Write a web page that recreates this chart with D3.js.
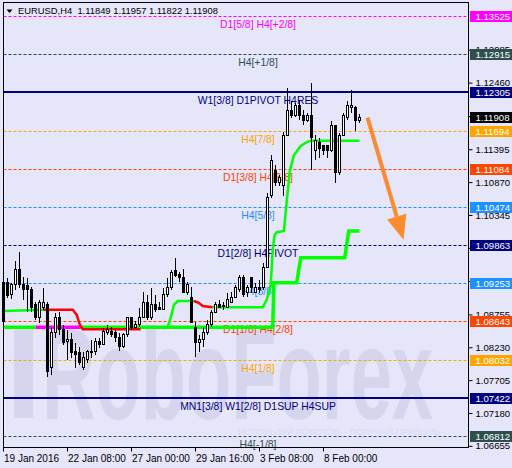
<!DOCTYPE html>
<html>
<head>
<meta charset="utf-8">
<script src="https://cdn.jsdelivr.net/npm/d3@7"></script>
<style>
  body { margin: 0; background: #e6e6fa; }
  svg { display: block; font-family: "Liberation Sans", Arial, sans-serif; }
</style>
</head>
<body>
<svg id="grafico"></svg>
<script>
// ---- dados ----
const titulo = 'EURUSD,H4';
const ohlcAtual = [1.11849, 1.11957, 1.11822, 1.11908];

const aberturas = [
  1.0865, 1.0926, 1.0907, 1.0924, 1.0948, 1.0923, 1.0921, 1.0915, 1.0891, 1.0870,
  1.0887, 1.0891, 1.0790, 1.0846, 1.0871, 1.0851, 1.0832, 1.0835, 1.0816, 1.0814,
  1.0790, 1.0804, 1.0816, 1.0816, 1.0833, 1.0828, 1.0847, 1.0849, 1.0846, 1.0838,
  1.0824, 1.0843, 1.0870, 1.0854, 1.0859, 1.0870, 1.0895, 1.0870, 1.0892, 1.0887,
  1.0884, 1.0907, 1.0918, 1.0945, 1.0940, 1.0935, 1.0911, 1.0903, 1.0855, 1.0830,
  1.0835, 1.0846, 1.0859, 1.0879, 1.0891, 1.0889, 1.0887, 1.0895, 1.0903, 1.0915,
  1.0935, 1.0910, 1.0934, 1.0911, 1.0918, 1.0918, 1.0951, 1.1065, 1.1106, 1.1086,
  1.1082, 1.1162, 1.1202, 1.1194, 1.1209, 1.1194, 1.1186, 1.1194, 1.1138, 1.1151,
  1.1145, 1.1145, 1.1138, 1.1177, 1.1102, 1.1162, 1.1190, 1.1206, 1.1206, 1.11849
];
const maximas = [
  1.0934, 1.0934, 1.0926, 1.0961, 1.0975, 1.0935, 1.0934, 1.0919, 1.0895, 1.0899,
  1.0918, 1.0895, 1.0854, 1.0878, 1.0879, 1.0859, 1.0851, 1.0846, 1.0830, 1.0824,
  1.0816, 1.0819, 1.0835, 1.0838, 1.0838, 1.0854, 1.0859, 1.0855, 1.0851, 1.0846,
  1.0846, 1.0871, 1.0871, 1.0865, 1.0886, 1.0911, 1.0907, 1.0918, 1.0907, 1.0895,
  1.0918, 1.0934, 1.0947, 1.0966, 1.0943, 1.0948, 1.0928, 1.0919, 1.0863, 1.0843,
  1.0855, 1.0867, 1.0883, 1.0895, 1.0899, 1.0895, 1.0910, 1.0911, 1.0923, 1.0939,
  1.0939, 1.0923, 1.0935, 1.0926, 1.0931, 1.0958, 1.1070, 1.1130, 1.1114, 1.1098,
  1.1167, 1.1237, 1.1217, 1.1214, 1.1217, 1.1202, 1.1198, 1.1245, 1.1162, 1.1158,
  1.1146, 1.1145, 1.1185, 1.1178, 1.1166, 1.1198, 1.1217, 1.1234, 1.1209, 1.11957
];
const minimas = [
  1.0860, 1.0902, 1.0900, 1.0915, 1.0918, 1.0899, 1.0879, 1.0879, 1.0867, 1.0862,
  1.0883, 1.0776, 1.0779, 1.0838, 1.0843, 1.0827, 1.0803, 1.0806, 1.0790, 1.0795,
  1.0787, 1.0798, 1.0806, 1.0811, 1.0822, 1.0827, 1.0843, 1.0840, 1.0832, 1.0817,
  1.0822, 1.0840, 1.0851, 1.0852, 1.0855, 1.0870, 1.0867, 1.0867, 1.0879, 1.0883,
  1.0883, 1.0903, 1.0915, 1.0935, 1.0928, 1.0910, 1.0907, 1.0862, 1.0808, 1.0816,
  1.0824, 1.0843, 1.0855, 1.0878, 1.0886, 1.0883, 1.0886, 1.0894, 1.0902, 1.0911,
  1.0903, 1.0903, 1.0910, 1.0910, 1.0910, 1.0915, 1.0950, 1.1062, 1.1081, 1.1081,
  1.1065, 1.1161, 1.1190, 1.1191, 1.1186, 1.1178, 1.1183, 1.1106, 1.1122, 1.1126,
  1.1130, 1.1126, 1.1135, 1.1086, 1.1098, 1.1161, 1.1186, 1.1198, 1.1169, 1.11822
];
const fechamentos = [
  1.0926, 1.0905, 1.0923, 1.0948, 1.0924, 1.0915, 1.0915, 1.0886, 1.0870, 1.0895,
  1.0895, 1.0784, 1.0846, 1.0871, 1.0851, 1.0830, 1.0835, 1.0814, 1.0811, 1.0798,
  1.0806, 1.0816, 1.0817, 1.0832, 1.0828, 1.0849, 1.0851, 1.0844, 1.0838, 1.0824,
  1.0843, 1.0870, 1.0854, 1.0860, 1.0871, 1.0895, 1.0870, 1.0892, 1.0884, 1.0884,
  1.0908, 1.0919, 1.0943, 1.0937, 1.0934, 1.0911, 1.0924, 1.0863, 1.0830, 1.0835,
  1.0846, 1.0859, 1.0879, 1.0891, 1.0887, 1.0890, 1.0899, 1.0903, 1.0918, 1.0935,
  1.0907, 1.0918, 1.0919, 1.0918, 1.0915, 1.0951, 1.1063, 1.1122, 1.1087, 1.1094,
  1.1162, 1.1202, 1.1194, 1.1209, 1.1193, 1.1186, 1.1194, 1.1158, 1.1154, 1.1141,
  1.1138, 1.1138, 1.1178, 1.1102, 1.1162, 1.1193, 1.1209, 1.1209, 1.1185, 1.11908
];

const rotulosX = ['19 Jan 2016', '22 Jan 08:00', '27 Jan 00:00', '29 Jan 16:00', '3 Feb 08:00', '8 Feb 00:00'];
const barrasRotulosX = [0, 16, 32, 48, 64, 80];

const ticksPreco = [1.12985, 1.12460, 1.11925, 1.11395, 1.10870, 1.10345, 1.09820,
                    1.09290, 1.08755, 1.08230, 1.07705, 1.07180, 1.06655];

// níveis de Murrey: preço, texto, tipo
const niveisPreco = [1.13525, 1.12915, 1.12305, 1.11694, 1.11084, 1.10474, 1.09863,
                     1.09253, 1.08643, 1.08032, 1.07422, 1.06812];
const niveisTexto = ['D1[5/8] H4[+2/8]', 'H4[+1/8]', 'W1[3/8] D1PIVOT H4RES', 'H4[7/8]',
                     'D1[3/8] H4[6/8]', 'H4[5/8]', 'D1[2/8] H4PIVOT', 'H4[3/8]',
                     'D1[1/8] H4[2/8]', 'H4[1/8]', 'MN1[3/8] W1[2/8] D1SUP H4SUP', 'H4[-1/8]'];
const niveisTipo = ['mag', 'cinza', 'azulForte', 'laranja', 'vermelho', 'azul', 'azulTrac',
                    'azul', 'vermelho', 'laranja', 'azulForte', 'cinza'];

// linhas do indicador: [barra, preço]
const linhaFina = [
  { cor: 'verde', pontos: [[0, 1.0881], [10, 1.0883]] },
  { cor: 'verm', pontos: [[10, 1.0883], [17.3, 1.0883], [18.3, 1.0875], [19.1, 1.0859], [19.8, 1.0852], [34.3, 1.0852]] },
  { cor: 'verde', pontos: [[34.3, 1.0855], [41, 1.0855], [41.8, 1.0870], [42.6, 1.0891], [43.6, 1.0897], [47.6, 1.0897]] },
  { cor: 'verm', pontos: [[47.6, 1.0897], [48.8, 1.0894], [49.8, 1.0889], [52.3, 1.0887]] },
  { cor: 'verde', pontos: [[52.3, 1.0887], [64.8, 1.0887], [65.8, 1.0899], [66.8, 1.0923], [67.3, 1.0979],
      [67.8, 1.1003], [68.3, 1.1007], [70.1, 1.1009], [70.6, 1.1043], [71.6, 1.1106], [72.6, 1.1130],
      [74.3, 1.1145], [75.8, 1.1151], [76.8, 1.1153], [89, 1.1153]] }
];
const linhaGrossa = [
  { cor: 'verde', pontos: [[0, 1.0855], [8, 1.0855]] },
  { cor: 'mag', pontos: [[8, 1.0855], [19.3, 1.0855]] },
  { cor: 'verde', pontos: [[19.3, 1.0855], [67.3, 1.0855], [67.6, 1.0926], [73.3, 1.0926], [74.3, 1.0966],
      [85.3, 1.0966], [86.3, 1.1009], [89, 1.1009]] }
];

const seta = [[91, 1.1190], [100, 1.0995]];

// ---- estilos ----
const estilos = {
  mag: { cor: '#ff00ff', traco: '3,2', largura: 1 },
  cinza: { cor: '#2f4f4f', traco: '3,2', largura: 1 },
  azulForte: { cor: '#000080', traco: null, largura: 2 },
  azulTrac: { cor: '#000080', traco: '3,2', largura: 1 },
  laranja: { cor: '#ffa500', traco: '3,2', largura: 1 },
  vermelho: { cor: '#ff4500', traco: '3,2', largura: 1 },
  azul: { cor: '#1e90ff', traco: '3,2', largura: 1 }
};
const coresIndicador = { verde: '#00ff00', verm: '#ff0000', mag: '#ff00ff' };

const largura = 512, altura = 468;
const area = { esquerda: 3.5, direita: 468.5, superior: 2.5, inferior: 447.5 };

const svg = d3.select('#grafico').attr('width', largura).attr('height', altura);

svg.append('rect').attr('width', largura).attr('height', altura).attr('fill', '#e6e6fa');

const fnX = d3.scaleLinear().domain([0, 89]).range([3.5, 359.5]);
const fnY = d3.scaleLinear().domain([1.06812, 1.13525]).range([436, 16]);

// marca d'água
const marca = svg.append('g').attr('fill', '#d5d5ee');
marca.append('rect').attr('x', 14).attr('y', 328).attr('width', 19).attr('height', 90);
marca.append('text')
  .attr('transform', 'translate(42,419) scale(0.57,1)')
  .style('font-size', '130px')
  .style('font-weight', 'bold')
  .text('RoboForex');
svg.append('text')
  .attr('x', 238).attr('y', 435)
  .attr('fill', '#dadaf2')
  .style('font-size', '9px')
  .text('ИСПОЛЬЗУЙ РОБОТОВ – ПОЛУЧАЙ ПРИБЫЛЬ');

// níveis
const niveis = niveisPreco.map((p, i) => ({ preco: p, texto: niveisTexto[i], est: estilos[niveisTipo[i]] }));

svg.append('g').selectAll('line').data(niveis).enter().append('line')
  .attr('x1', area.esquerda).attr('x2', area.direita)
  .attr('y1', d => Math.round(fnY(d.preco)) + (d.est.largura === 2 ? 0 : 0.5))
  .attr('y2', d => Math.round(fnY(d.preco)) + (d.est.largura === 2 ? 0 : 0.5))
  .attr('stroke', d => d.est.cor)
  .attr('stroke-width', d => d.est.largura)
  .attr('stroke-dasharray', d => d.est.traco);

svg.append('g').selectAll('text').data(niveis).enter().append('text')
  .attr('x', 258)
  .attr('y', d => Math.round(fnY(d.preco)) + 12)
  .attr('text-anchor', 'middle')
  .attr('fill', d => d.est.cor)
  .style('font-size', '10.4px')
  .text(d => d.texto);

// indicador
const linha = d3.line().x(d => fnX(d[0])).y(d => fnY(d[1]));
svg.append('g').selectAll('path').data(linhaGrossa).enter().append('path')
  .attr('d', d => linha(d.pontos))
  .attr('fill', 'none')
  .attr('stroke', d => coresIndicador[d.cor])
  .attr('stroke-width', 3.5);
svg.append('g').selectAll('path').data(linhaFina).enter().append('path')
  .attr('d', d => linha(d.pontos))
  .attr('fill', 'none')
  .attr('stroke', d => coresIndicador[d.cor])
  .attr('stroke-width', 2.5);

// velas
const velas = aberturas.map((o, i) => ({
  i: i, o: o, h: maximas[i], l: minimas[i], c: fechamentos[i]
}));

const gVelas = svg.append('g').attr('shape-rendering', 'crispEdges');
gVelas.selectAll('.pavio').data(velas).enter().append('line')
  .attr('class', 'pavio')
  .attr('x1', d => fnX(d.i)).attr('x2', d => fnX(d.i))
  .attr('y1', d => fnY(d.h)).attr('y2', d => fnY(d.l))
  .attr('stroke', '#000');
gVelas.selectAll('.corpo').data(velas).enter().append('rect')
  .attr('class', 'corpo')
  .attr('x', d => fnX(d.i) - 1)
  .attr('width', 2)
  .attr('y', d => fnY(Math.max(d.o, d.c)))
  .attr('height', d => Math.max(1, Math.abs(fnY(d.o) - fnY(d.c))))
  .attr('fill', d => d.c >= d.o ? '#fff' : '#000')
  .attr('stroke', '#000');

// seta laranja
const corSeta = '#fb8b2e';
const [s0, s1] = seta.map(d => [fnX(d[0]), fnY(d[1])]);
const ang = Math.atan2(s1[1] - s0[1], s1[0] - s0[0]);
const comp = 24, meia = 10;
const base = [s1[0] - comp * Math.cos(ang), s1[1] - comp * Math.sin(ang)];
svg.append('line')
  .attr('x1', s0[0]).attr('y1', s0[1]).attr('x2', base[0]).attr('y2', base[1])
  .attr('stroke', corSeta).attr('stroke-width', 4);
svg.append('path')
  .attr('d', 'M' + s1 + 'L' + [base[0] + meia * Math.sin(ang), base[1] - meia * Math.cos(ang)] +
    'L' + [base[0] - meia * Math.sin(ang), base[1] + meia * Math.cos(ang)] + 'Z')
  .attr('fill', corSeta);

// moldura
svg.append('rect')
  .attr('x', area.esquerda).attr('y', area.superior)
  .attr('width', area.direita - area.esquerda).attr('height', area.inferior - area.superior)
  .attr('fill', 'none').attr('stroke', '#000');

// eixo X
const eixoX = d3.axisBottom(fnX)
  .tickValues(barrasRotulosX)
  .tickFormat((d, i) => rotulosX[i])
  .tickSize(4);
const gX = svg.append('g')
  .attr('transform', 'translate(-0.5,' + area.inferior + ')')
  .call(eixoX);
gX.select('.domain').remove();
gX.selectAll('text').attr('text-anchor', 'start').attr('x', 0.5)
  .style('font-size', '10px').style('font-family', '"Liberation Sans", Arial, sans-serif').attr('fill', '#000');

// eixo Y
const eixoY = d3.axisRight(fnY)
  .tickValues(ticksPreco)
  .tickFormat(d3.format('.5f'))
  .tickSize(4);
const gY = svg.append('g')
  .attr('transform', 'translate(' + area.direita + ',0)')
  .call(eixoY);
gY.select('.domain').remove();
gY.selectAll('text')
  .style('font-size', '9.6px').style('font-family', '"Liberation Sans", Arial, sans-serif').attr('fill', '#000');

// caixas de preço
const caixas = niveis.map(d => ({ preco: d.preco, cor: d.est.cor }));
caixas.push({ preco: ohlcAtual[3], cor: '#000' });
const gC = svg.append('g');
gC.selectAll('rect').data(caixas).enter().append('rect')
  .attr('x', 470).attr('width', 42)
  .attr('y', d => Math.round(fnY(d.preco)) - 5)
  .attr('height', 11)
  .attr('fill', d => d.cor);
gC.selectAll('text').data(caixas).enter().append('text')
  .attr('x', 475.5)
  .attr('y', d => Math.round(fnY(d.preco)) + 4)
  .attr('fill', '#fff')
  .style('font-size', '9.6px')
  .text(d => d.preco.toFixed(5));

// cabeçalho
svg.append('path').attr('d', 'M6.5,9.5L12.5,9.5L9.5,13Z').attr('fill', '#000');
svg.append('text')
  .attr('x', 18).attr('y', 14)
  .style('font-size', '9.4px')
  .attr('fill', '#000')
  .attr('xml:space', 'preserve')
  .text(titulo + '  ' + ohlcAtual.map(v => v.toFixed(5)).join(' '));
</script>
</body>
</html>
